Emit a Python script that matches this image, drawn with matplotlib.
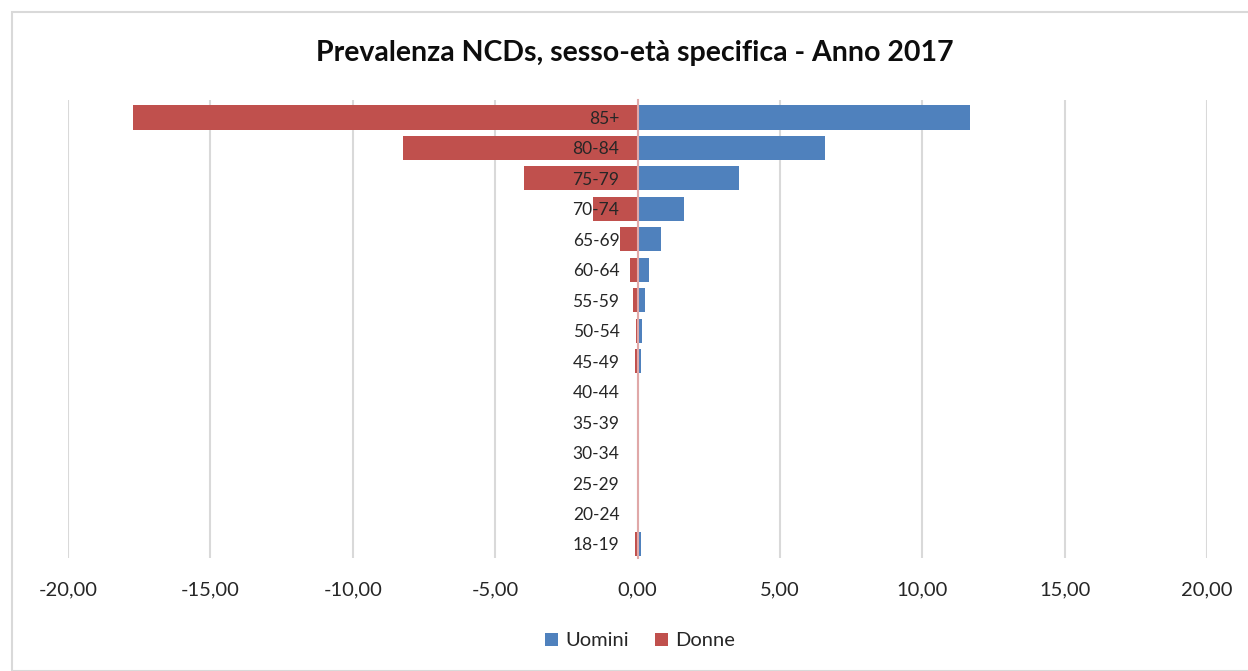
import matplotlib.pyplot as plt
from matplotlib.patches import Rectangle
from matplotlib.ticker import FuncFormatter

plt.rcParams['font.family'] = ['Lato', 'DejaVu Sans']

# Classi di età (dal basso verso l'alto)
classi = ['18-19', '20-24', '25-29', '30-34', '35-39', '40-44', '45-49', '50-54',
          '55-59', '60-64', '65-69', '70-74', '75-79', '80-84', '85+']
# Prevalenza (valori stimati dal grafico)
uomini = [0.12, 0.04, 0.04, 0.04, 0.04, 0.06, 0.13, 0.17,
          0.25, 0.39, 0.84, 1.62, 3.55, 6.57, 11.69]
donne = [-0.10, -0.02, -0.02, -0.02, -0.02, -0.03, -0.08, -0.07,
         -0.17, -0.28, -0.63, -1.58, -3.97, -8.22, -17.73]

fig = plt.figure(figsize=(12.48, 6.71), dpi=100)
ax = fig.add_axes([68 / 1248, 1 - 558 / 671, (1207 - 68) / 1248, (558 - 100) / 671])

# bordo del grafico
fig.patches.append(Rectangle((12 / 1248, 0), 1.0, 1 - 12 / 671, transform=fig.transFigure,
                             fill=False, edgecolor='#D9D9D9', linewidth=1.5))

y = range(len(classi))
ax.barh(y, uomini, height=0.79, color='#4F81BD', label='Uomini', zorder=2)
ax.barh(y, donne, height=0.79, color='#C0504D', label='Donne', zorder=2)

ax.set_xlim(-20, 20)
ax.set_ylim(-0.46, 14.575)
ax.set_xticks(range(-20, 21, 5))
ax.xaxis.set_major_formatter(FuncFormatter(lambda v, p: f'{v:.2f}'.replace('.', ',')))
ax.set_yticks(list(y))
ax.set_yticklabels(classi)
ax.grid(axis='x', color='#D9D9D9', linewidth=1.5)
ax.set_axisbelow(True)
ax.yaxis.set_zorder(4)  # etichette delle classi sopra le barre

for s in ['top', 'right', 'bottom']:
    ax.spines[s].set_visible(False)
ax.spines['left'].set_position(('data', 0))
ax.spines['left'].set_color('#E0A8A8')
ax.spines['left'].set_linewidth(1.5)
ax.spines['left'].set_zorder(3)
ax.tick_params(axis='y', length=0, pad=13, labelsize=12.5, labelcolor='#262626')
ax.tick_params(axis='x', length=0, pad=17, labelsize=14.5, labelcolor='#262626')

fig.text(0.509, 1 - 53 / 671, 'Prevalenza NCDs, sesso-età specifica - Anno 2017',
         ha='center', va='center', fontsize=20.5, fontweight='bold', color='#0D0D0D')

fig.legend(loc='center', bbox_to_anchor=(0.513, 1 - 641 / 671), ncol=2, frameon=False,
           fontsize=14.5, handlelength=0.65, handleheight=0.65, handletextpad=0.35,
           columnspacing=1.3, labelcolor='#262626')

fig.savefig('out.png', dpi=100)
